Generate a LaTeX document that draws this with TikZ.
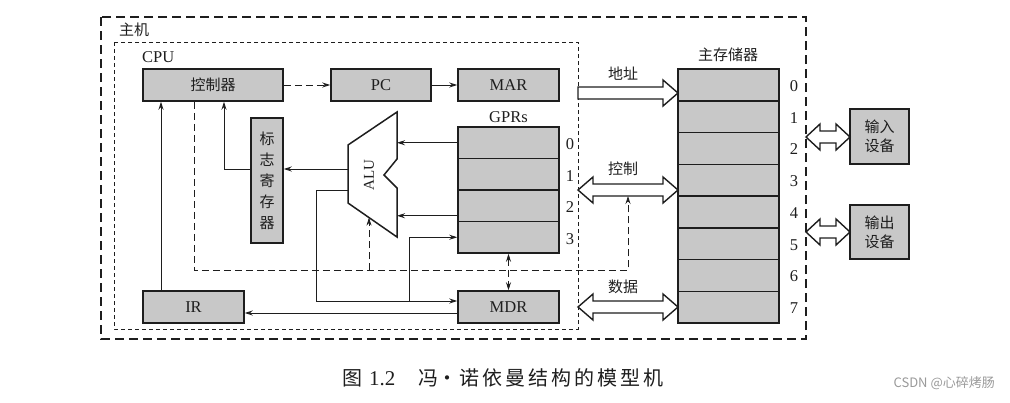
\documentclass[tikz,border=0pt]{standalone}
\usepackage{fontspec}
\setmainfont{Liberation Serif}
\newfontfamily\cjk{Noto Sans CJK SC}
\newfontfamily\cjkwide[LetterSpace=15]{Noto Sans CJK SC}
\usetikzlibrary{arrows.meta,calc}
\definecolor{boxfill}{RGB}{200,200,200}
\definecolor{ink}{RGB}{30,30,30}
\newcommand\busR[3]{\draw[bus] (#1,#3-6) -- (#2-15,#3-6) -- (#2-15,#3-13) -- (#2,#3) -- (#2-15,#3+13) -- (#2-15,#3+6) -- (#1,#3+6) -- cycle;}
\newcommand\busD[4]{\draw[bus] (#1,#3) -- (#1+#4,#3-13) -- (#1+#4,#3-6) -- (#2-#4,#3-6) -- (#2-#4,#3-13) -- (#2,#3) -- (#2-#4,#3+13) -- (#2-#4,#3+6) -- (#1+#4,#3+6) -- (#1+#4,#3+13) -- cycle;}
\begin{document}
\begin{tikzpicture}[x=1pt,y=-1pt,
  blk/.style={draw=ink, line width=1.5pt, fill=boxfill, inner sep=0pt, text=ink, font=\fontsize{16.5}{18}\selectfont},
  lbl/.style={inner sep=0pt, text=ink, font=\fontsize{16.5}{18}\selectfont},
  zhlbl/.style={inner sep=0pt, text=ink, font=\cjk\fontsize{15}{18}\selectfont},
  conn/.style={draw=ink, line width=0.8pt},
  tip/.style={-{Stealth[length=8pt,width=5pt]}},
  tips/.style={{Stealth[length=8pt,width=5pt]}-{Stealth[length=8pt,width=5pt]}},
  ctl/.style={dash pattern=on 7pt off 4pt},
  bus/.style={draw=ink, line width=1.4pt, fill=white, line join=miter},
  captxt/.style={inner sep=0pt, anchor=base west, text=ink, font=\fontsize{21}{23}\selectfont},
]
\useasboundingbox (0,0) rectangle (1010,402);

% containers
\draw[ink, line width=1.6pt, dash pattern=on 9pt off 5pt] (101,17) rectangle (806,339);
\draw[ink, line width=1pt, dash pattern=on 4pt off 3pt] (114,42) rectangle (578,329);
\node[zhlbl, anchor=west] (host) at (119,30) {主机};
\node[lbl, anchor=west] (cpu) at (142,57) {CPU};

% CPU boxes
\node[blk, minimum width=140pt, minimum height=32pt] (ctrl) at (213,85) {\cjk\fontsize{15}{18}\selectfont 控制器};
\node[blk, minimum width=100pt, minimum height=32pt] (pc) at (381,85) {PC};
\node[blk, minimum width=101pt, minimum height=32pt] (mar) at (508.5,85) {MAR};
\node[blk, minimum width=101pt, minimum height=32pt] (mdr) at (508.5,307) {MDR};
\node[blk, minimum width=101pt, minimum height=32pt] (ir) at (193.5,307) {IR};
\node[blk, minimum width=32pt, minimum height=125pt, align=center, font=\cjk\fontsize{15}{21}\selectfont] (flag) at (267,180.5) {标\\志\\寄\\存\\器};

% GPRs
\node[lbl] (gprs) at (508.5,117) {GPRs};
\foreach \i in {0,1,2,3}{
  \node[blk, minimum width=101pt, minimum height=31.5pt] (g\i) at (508.5,142.75+31.5*\i) {};
  \node[lbl] (gd\i) at (570,144.5+31.5*\i) {\i};
}

% ALU
\coordinate (aluTR) at (397,112);
\coordinate (aluTL) at (348,145);
\coordinate (aluBL) at (348,203);
\coordinate (aluBR) at (397,237);
\draw[ink, line width=1.5pt, line join=miter] (aluTR) -- (aluTL) -- (aluBL) -- (aluBR) -- (397,188) -- (384,175) -- (397,159) -- cycle;
\node[lbl, rotate=90, font=\fontsize{15}{17}\selectfont] (alu) at (369,175) {ALU};

% memory
\node[zhlbl] (memlbl) at (728,55) {主存储器};
\foreach \i in {0,...,7}{
  \node[blk, minimum width=101pt, minimum height=31.75pt] (m\i) at (728.5,84.875+31.75*\i) {};
  \node[lbl] (md\i) at (794,86+31.75*\i) {\i};
}

% devices
\node[blk, minimum width=59pt, minimum height=55pt, align=center, font=\cjk\fontsize{15}{19}\selectfont] (in) at (879.5,136.5) {输入\\设备};
\node[blk, minimum width=59pt, minimum height=54pt, align=center, font=\cjk\fontsize{15}{19}\selectfont] (out) at (879.5,232) {输出\\设备};

% helper coordinates
\coordinate (xIR) at (161,0);
\coordinate (xF) at (224,0);
\coordinate (xC) at (194,0);
\coordinate (xA) at (316,0);
\coordinate (xB) at (409,0);
\coordinate (xD) at (628,0);
\coordinate (yC) at (0,270);
\coordinate (yM) at (0,301);
\coordinate (yI) at (0,313);
\coordinate (aluOut1) at (348,169);
\coordinate (aluOut2) at (348,190);
\coordinate (aluBot) at ($(aluBL)!0.4286!(aluBR)$);
\coordinate (g2out) at ($(g2.west)+(0,10)$);
\coordinate (busCbot) at (628,196);

% connectors
\draw[conn, ctl, tip] (ctrl.east) -- (pc.west);
\draw[conn, tip] (pc.east) -- (mar.west);
\draw[conn, tip] (ir.north -| xIR) -- (ctrl.south -| xIR);
\draw[conn, tip] (aluOut1) -- (aluOut1 -| flag.east);
\draw[conn, tip] (aluOut1 -| flag.west) -- (aluOut1 -| xF) -- (ctrl.south -| xF);
\draw[conn, tip] (g0.west) -- (g0.west -| aluTR);
\draw[conn, tip] (g2out) -- (g2out -| aluTR);
\draw[conn, tip] (aluOut2) -- (aluOut2 -| xA) -- (xA |- yM) -- (yM -| mdr.west);
\draw[conn, tip] (xB |- yM) -- (xB |- g3.west) -- (g3.west);
\draw[conn, tip] (yI -| mdr.west) -- (yI -| ir.east);
\draw[conn, ctl, tips] (g3.south) -- (mdr.north);
\draw[conn, ctl, tip] (ctrl.south -| xC) -- (xC |- yC) -- (xD |- yC) -- (busCbot);
\draw[conn, ctl, tip] (aluBot |- yC) -- (aluBot);

% buses
\busR{578}{678}{93}
\busD{578}{678}{190}{15}
\busD{578}{678}{307}{15}
\busD{806}{850}{137}{14}
\busD{806}{850}{232}{14}
\node[zhlbl] (addr) at (623,74) {地址};
\node[zhlbl] (ctlb) at (623,169) {控制};
\node[zhlbl] (data) at (623,287) {数据};

% caption
\node[captxt, font=\cjk\fontsize{20}{22}\selectfont] (capf) at (342,385) {图};
\node[captxt] (capn) at (369,385) {1.2};
\node[captxt, font=\cjk\fontsize{20}{22}\selectfont] (capv) at (418,385) {冯};
\node[captxt, anchor=base, font=\cjk\fontsize{20}{22}\selectfont] (capb) at (447,385) {•};
\node[captxt, font=\cjkwide\fontsize{20}{22}\selectfont] (capt) at (459,385) {诺依曼结构的模型机};
\node[anchor=east, inner sep=0pt, text=gray!80, font=\cjk\fontsize{13}{15}\selectfont] (wm) at (995,383) {CSDN @心碎烤肠};
\end{tikzpicture}
\end{document}
